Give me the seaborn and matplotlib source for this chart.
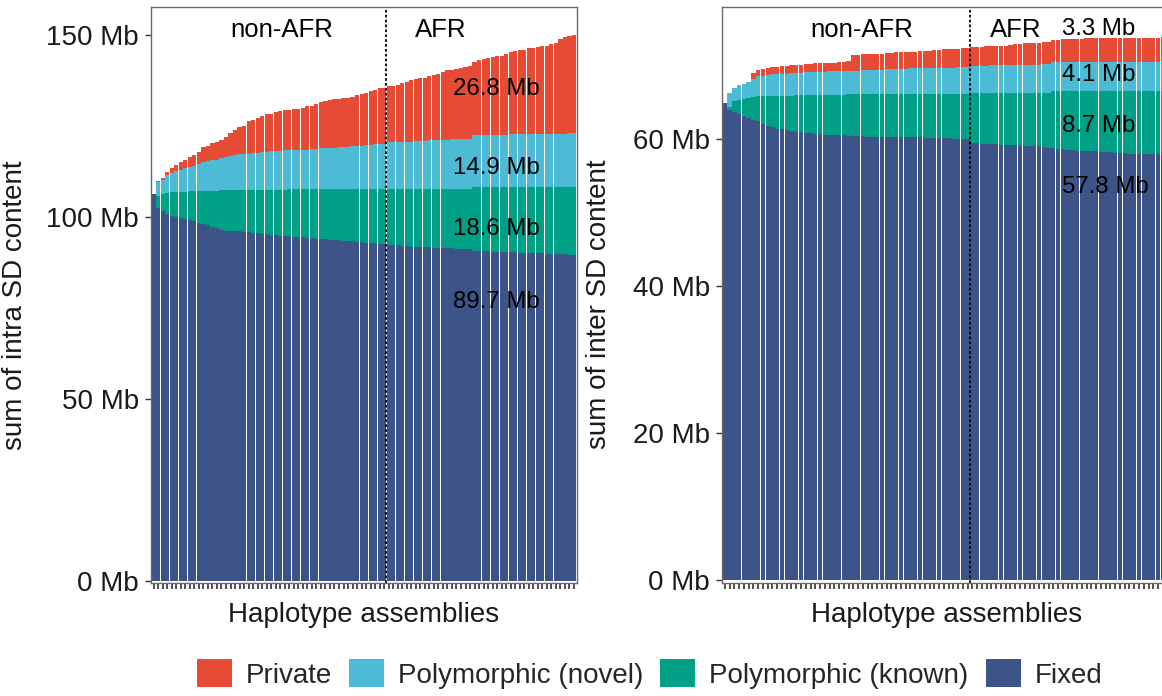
import numpy as np
import pandas as pd
import matplotlib
matplotlib.use("Agg")
import matplotlib.pyplot as plt
from matplotlib.patches import Patch
import seaborn as sns

# ---- SD content per haplotype assembly (Mb), ordered by total ----
# intrachromosomal SDs
fixed_intra = [106.4, 102.6, 101.7, 100.9, 100.3, 100.0, 99.8, 99.4, 99.1, 98.8,
               98.5, 98.0, 97.7, 97.4, 97.1, 96.5, 96.3, 96.3, 96.2, 96.1,
               95.9, 95.8, 95.6, 95.5, 95.4, 95.3, 95.1, 95.0, 94.9, 94.8,
               94.7, 94.6, 94.5, 94.4, 94.3, 94.2, 94.1, 94.0, 93.9, 93.8,
               93.7, 93.6, 93.5, 93.4, 93.3, 93.2, 93.1, 93.0, 92.9, 92.8,
               92.7, 92.6, 92.4, 92.3, 92.2, 92.1, 92.0, 91.9, 91.9, 91.8,
               91.7, 91.7, 91.6, 91.5, 91.5, 91.4, 91.4, 91.3, 91.3, 91.2,
               91.1, 90.8, 90.7, 90.6, 90.6, 90.5, 90.5, 90.4, 90.4, 90.3,
               90.3, 90.2, 90.2, 90.1, 90.1, 90.0, 90.0, 89.9, 89.9, 89.8,
               89.8, 89.8, 89.7, 89.7]
known_intra = [0.0, 3.2, 4.7, 5.8, 6.6, 6.9, 7.2, 7.6, 8.0, 8.4,
               8.7, 9.3, 9.6, 9.9, 10.2, 10.9, 11.1, 11.1, 11.2, 11.4,
               11.6, 11.7, 11.9, 12.0, 12.1, 12.2, 12.4, 12.5, 12.6, 12.7,
               12.9, 13.0, 13.1, 13.2, 13.3, 13.4, 13.5, 13.6, 13.7, 13.8,
               13.9, 14.0, 14.1, 14.2, 14.3, 14.4, 14.5, 14.6, 14.7, 14.8,
               14.9, 15.0, 15.3, 15.4, 15.5, 15.6, 15.7, 15.8, 15.8, 15.9,
               16.0, 16.0, 16.1, 16.2, 16.2, 16.3, 16.3, 16.4, 16.4, 16.5,
               16.6, 17.4, 17.5, 17.6, 17.6, 17.7, 17.7, 17.8, 17.8, 17.9,
               17.9, 18.0, 18.0, 18.1, 18.1, 18.2, 18.2, 18.3, 18.3, 18.4,
               18.4, 18.4, 18.6, 18.6]
novel_intra = [0.0, 3.8, 3.7, 4.8, 5.2, 5.9, 6.0, 6.6, 6.7, 7.0,
               7.5, 7.8, 8.1, 8.3, 8.5, 8.9, 9.1, 9.4, 9.6, 9.8,
               9.9, 10.0, 10.1, 10.2, 10.4, 10.5, 10.6, 10.7, 10.8, 10.9,
               10.8, 10.9, 10.9, 11.0, 11.0, 11.1, 11.2, 11.3, 11.3, 11.4,
               11.5, 11.6, 11.7, 11.8, 11.9, 12.0, 12.1, 12.2, 12.3, 12.4,
               12.5, 12.6, 12.9, 12.9, 13.0, 13.0, 13.1, 13.1, 13.2, 13.3,
               13.3, 13.4, 13.4, 13.5, 13.6, 13.6, 13.7, 13.7, 13.8, 13.8,
               13.9, 14.3, 14.3, 14.4, 14.4, 14.4, 14.5, 14.5, 14.5, 14.6,
               14.6, 14.6, 14.7, 14.7, 14.7, 14.8, 14.8, 14.8, 14.8, 14.8,
               14.8, 14.8, 14.9, 14.9]
private_intra = [0.0, 0.3, 0.7, 0.8, 1.4, 1.6, 2.1, 2.2, 2.7, 3.0,
                 3.2, 4.2, 4.3, 4.8, 4.8, 5.0, 5.5, 6.3, 6.9, 7.5,
                 7.6, 8.9, 9.0, 9.7, 9.8, 10.3, 10.3, 10.7, 10.8, 11.0,
                 11.2, 11.2, 11.3, 11.5, 11.9, 12.0, 12.2, 12.8, 13.0, 13.3,
                 13.3, 13.3, 13.5, 13.5, 13.6, 13.9, 14.1, 14.4, 14.8, 15.1,
                 15.3, 15.4, 15.4, 15.4, 15.6, 16.1, 16.4, 16.9, 17.2, 17.2,
                 17.3, 17.8, 18.1, 18.2, 18.6, 19.1, 19.2, 19.4, 19.4, 19.8,
                 20.1, 20.2, 20.8, 20.9, 21.2, 21.5, 21.5, 21.7, 22.3, 22.5,
                 22.8, 23.1, 23.2, 23.5, 23.6, 23.8, 24.0, 24.2, 24.6, 25.0,
                 26.0, 26.6, 26.7, 26.8]

# interchromosomal SDs
fixed_inter = [64.9, 63.9, 63.6, 63.4, 63.1, 62.8, 62.6, 62.4, 62.1, 61.8,
               61.6, 61.4, 61.3, 61.2, 61.1, 61.0, 60.9, 60.8, 60.8, 60.7,
               60.7, 60.6, 60.6, 60.5, 60.5, 60.5, 60.4, 60.4, 60.4, 60.4,
               60.3, 60.3, 60.3, 60.3, 60.3, 60.3, 60.2, 60.2, 60.2, 60.2,
               60.2, 60.2, 60.1, 60.1, 60.1, 60.1, 60.1, 60.1, 60.0, 60.0,
               60.0, 60.0, 59.4, 59.4, 59.3, 59.3, 59.3, 59.3, 59.2, 59.2,
               59.2, 59.2, 59.1, 59.1, 59.1, 59.0, 59.0, 58.9, 58.8, 58.7,
               58.6, 58.6, 58.5, 58.5, 58.4, 58.4, 58.3, 58.3, 58.3, 58.2,
               58.2, 58.2, 58.1, 58.1, 58.1, 58.0, 58.0, 58.0, 57.9, 57.9,
               57.9, 57.9, 57.8, 57.8]
known_inter = [0.0, 0.5, 1.5, 1.9, 2.4, 2.8, 3.1, 3.4, 3.7, 4.1,
               4.3, 4.5, 4.6, 4.7, 4.8, 5.0, 5.1, 5.2, 5.2, 5.3,
               5.3, 5.4, 5.4, 5.5, 5.5, 5.5, 5.7, 5.7, 5.7, 5.7,
               5.8, 5.8, 5.8, 5.8, 5.8, 5.8, 5.9, 5.9, 5.9, 5.9,
               5.9, 5.9, 6.0, 6.0, 6.0, 6.0, 6.0, 6.0, 6.1, 6.1,
               6.1, 6.1, 6.9, 6.9, 7.0, 7.0, 7.0, 7.0, 7.1, 7.1,
               7.1, 7.1, 7.2, 7.2, 7.2, 7.3, 7.3, 7.4, 7.5, 7.8,
               7.9, 7.9, 8.0, 8.0, 8.1, 8.1, 8.2, 8.2, 8.2, 8.3,
               8.3, 8.3, 8.4, 8.4, 8.4, 8.5, 8.5, 8.5, 8.6, 8.6,
               8.6, 8.6, 8.7, 8.7]
novel_inter = [0.0, 1.9, 1.9, 2.0, 2.0, 2.2, 2.4, 2.7, 2.8, 2.8,
               2.9, 2.9, 3.0, 3.0, 3.1, 3.0, 3.0, 3.1, 3.1, 3.1,
               3.1, 3.1, 3.2, 3.2, 3.2, 3.2, 3.2, 3.2, 3.2, 3.3,
               3.3, 3.3, 3.3, 3.3, 3.4, 3.4, 3.4, 3.4, 3.4, 3.5,
               3.5, 3.5, 3.5, 3.5, 3.6, 3.6, 3.6, 3.6, 3.6, 3.7,
               3.7, 3.7, 3.6, 3.6, 3.6, 3.6, 3.7, 3.7, 3.7, 3.7,
               3.7, 3.8, 3.8, 3.8, 3.8, 3.8, 3.8, 3.9, 3.9, 4.0,
               4.0, 4.0, 4.0, 4.0, 4.0, 4.0, 4.0, 4.0, 4.0, 4.0,
               4.0, 4.0, 4.0, 4.0, 4.0, 4.0, 4.0, 4.0, 4.0, 4.0,
               4.0, 4.0, 4.1, 4.1]
private_inter = [0.0, 0.0, 0.0, 0.0, 0.0, 0.0, 0.9, 0.9, 0.9, 1.0,
                 1.0, 1.0, 1.0, 1.0, 1.0, 1.1, 1.1, 1.1, 1.1, 1.2,
                 1.2, 1.2, 1.2, 1.2, 1.3, 1.3, 1.3, 2.1, 2.1, 2.1,
                 2.1, 2.2, 2.2, 2.2, 2.2, 2.2, 2.3, 2.3, 2.3, 2.3,
                 2.3, 2.4, 2.4, 2.4, 2.4, 2.4, 2.5, 2.5, 2.5, 2.5,
                 2.6, 2.6, 2.6, 2.6, 2.6, 2.7, 2.7, 2.7, 2.7, 2.7,
                 2.8, 2.8, 2.8, 3.0, 3.0, 3.0, 3.0, 3.0, 3.0, 3.0,
                 3.0, 3.1, 3.1, 3.1, 3.1, 3.1, 3.2, 3.2, 3.2, 3.2,
                 3.2, 3.2, 3.2, 3.2, 3.2, 3.2, 3.3, 3.3, 3.3, 3.3,
                 3.3, 3.3, 3.3, 3.3]

n_non_afr = 52          # assemblies left of the dashed line
categories = ["Private", "Polymorphic (novel)", "Polymorphic (known)", "Fixed"]
palette = {"Private": "#E64B35", "Polymorphic (novel)": "#4DBBD5",
           "Polymorphic (known)": "#00A087", "Fixed": "#3C5488"}

sns.set_theme(style="white")
plt.rcParams["font.family"] = ["Liberation Sans", "DejaVu Sans"]

W, H = 1162, 696
fig = plt.figure(figsize=(W / 100, H / 100), dpi=100)
ax_intra = fig.add_axes([151 / W, 1 - 582.7 / H, 425.7 / W, 576 / H])
ax_inter = fig.add_axes([722 / W, 1 - 582.7 / H, 448.4 / W, 576 / H])


def draw_panel(ax, fixed, known, novel, private, yticks, ylim, ylabel,
               label_x, label_y, group_x):
    fixed, known, novel, private = map(np.asarray, (fixed, known, novel, private))
    n = len(fixed)
    df = pd.DataFrame({
        "hap": np.arange(n),
        "Fixed": fixed,
        "Polymorphic (known)": fixed + known,
        "Polymorphic (novel)": fixed + known + novel,
        "Private": fixed + known + novel + private,
    })
    # stacked bars: draw the cumulative heights from the top layer down
    for cat in categories:
        sns.barplot(data=df, x="hap", y=cat, color=palette[cat], saturation=1,
                    width=0.92, errorbar=None, linewidth=0, edgecolor="none",
                    ax=ax)

    ax.set_xlim(-0.6, n - 0.4)
    ax.set_ylim(*ylim)
    ax.axvline(n_non_afr - 0.5, color="black", lw=1.3, ls=(0, (1.5, 1.2)))

    ax.set_xticks(np.arange(n))
    ax.set_xticklabels([])
    ax.set_yticks(yticks)
    ax.set_yticklabels([f"{v} Mb" for v in yticks])
    ax.tick_params(axis="x", bottom=True, length=4.3, width=1.2,
                   color="#333333")
    ax.tick_params(axis="y", left=True, length=4.3, width=1.0,
                   color="#333333", pad=4.5, labelsize=20, labelcolor="#1a1a1a")
    for sp in ax.spines.values():
        sp.set_visible(True)
        sp.set_color("#6a6a6a")
        sp.set_linewidth(1.0)

    ax.set_xlabel("Haplotype assemblies", fontsize=20, color="#1a1a1a")
    ax.xaxis.set_label_coords(0.5, -0.056)
    ax.xaxis.label.set_va("center")
    ax.set_ylabel(ylabel, fontsize=20, color="#1a1a1a")

    # component sizes for the final assembly
    values = {"Private": private[-1], "Polymorphic (novel)": novel[-1],
              "Polymorphic (known)": known[-1], "Fixed": fixed[-1]}
    for cat, y in zip(categories, label_y):
        ax.text(label_x, y, f"{values[cat]:.1f} Mb", fontsize=17.3,
                ha="left", va="center", color="black")

    ax.text(group_x[0], 0.9595, "non-AFR", transform=ax.get_xaxis_transform(),
            fontsize=18.5, ha="center", va="center", color="black")
    ax.text(group_x[1], 0.9595, "AFR", transform=ax.get_xaxis_transform(),
            fontsize=18.5, ha="center", va="center", color="black")


draw_panel(ax_intra, fixed_intra, known_intra, novel_intra, private_intra,
           yticks=[0, 50, 100, 150], ylim=(-0.6, 157.9),
           ylabel="sum of intra SD content",
           label_x=66.2, label_y=[135.3, 113.5, 96.7, 76.6],
           group_x=(28.4, 63.4))
ax_intra.yaxis.set_label_coords(-0.289, 0.482)

draw_panel(ax_inter, fixed_inter, known_inter, novel_inter, private_inter,
           yticks=[0, 20, 40, 60], ylim=(-0.4, 78.0),
           ylabel="sum of inter SD content",
           label_x=70.8, label_y=[75.0, 68.7, 61.7, 53.5],
           group_x=(28.8, 61.2))
ax_inter.yaxis.set_label_coords(-0.245, 0.484)

handles = [Patch(facecolor=palette[c], edgecolor="none") for c in categories]
fig.legend(handles, categories, loc="center",
           bbox_to_anchor=(649.5 / W, 1 - 674 / H), ncol=4, frameon=False,
           fontsize=20, handlelength=1.26, handleheight=1.15,
           handletextpad=0.5, columnspacing=0.62, borderpad=0, borderaxespad=0)

fig.savefig("out.png", dpi=100)
